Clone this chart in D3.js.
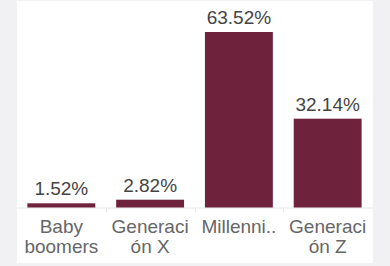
<!DOCTYPE html>
<html>
<head>
<meta charset="utf-8">
<script src="https://d3js.org/d3.v7.min.js"></script>
<style>
  body { margin: 0; background: #f1f1f3; }
  svg { display: block; }
</style>
</head>
<body>
<svg width="390" height="266"></svg>
<script>
  // data
  var categories = ["Baby boomers", "Generación X", "Millennials", "Generación Z"];
  var shares = [1.52, 2.82, 63.52, 32.14];
  var tickLines = [["Baby", "boomers"], ["Generaci", "ón X"], ["Millenni.."], ["Generaci", "ón Z"]];

  var data = categories.map(function (c, i) {
    return { name: c, value: shares[i], lines: tickLines[i] };
  });

  var svg = d3.select("svg");

  // white card
  svg.append("rect")
    .attr("x", 17).attr("y", 1)
    .attr("width", 356).attr("height", 262)
    .attr("fill", "#fff");

  var baseY = 207.5;

  var x = d3.scaleBand()
    .domain(categories)
    .range([17, 372])
    .paddingInner(0.235)
    .paddingOuter(0.117);

  var y = d3.scaleLinear()
    .domain([0, 63.52])
    .range([baseY, 32]);

  // axis line with separators between bands
  var axis = svg.append("g").attr("stroke", "#e6e6e6").attr("stroke-width", 1);
  axis.append("line")
    .attr("x1", 17).attr("x2", 373)
    .attr("y1", baseY + 0.5).attr("y2", baseY + 0.5);
  axis.selectAll(".sep")
    .data(categories.slice(1))
    .enter()
    .append("line")
    .attr("class", "sep")
    .attr("x1", function (d) { return Math.round(x(d) - x.step() * x.paddingInner() / 2) + 0.5; })
    .attr("x2", function (d) { return Math.round(x(d) - x.step() * x.paddingInner() / 2) + 0.5; })
    .attr("y1", baseY)
    .attr("y2", baseY + 5);

  svg.selectAll(".bar")
    .data(data)
    .enter()
    .append("rect")
    .attr("class", "bar")
    .attr("x", function (d) { return x(d.name); })
    .attr("width", x.bandwidth())
    .attr("y", function (d) { return y(d.value); })
    .attr("height", function (d) { return baseY - y(d.value); })
    .attr("fill", "#6e223b");

  svg.selectAll(".val")
    .data(data)
    .enter()
    .append("text")
    .attr("class", "val")
    .attr("x", function (d) { return x(d.name) + x.bandwidth() / 2; })
    .attr("y", function (d) { return y(d.value) - 8; })
    .attr("text-anchor", "middle")
    .style("font", "19px 'Liberation Sans', Arial, sans-serif")
    .style("fill", "#444")
    .text(function (d) { return d.value.toFixed(2) + "%"; });

  var lbl = svg.selectAll(".lbl")
    .data(data)
    .enter()
    .append("text")
    .attr("class", "lbl")
    .attr("text-anchor", "middle")
    .style("font", "19px 'Liberation Sans', Arial, sans-serif")
    .style("fill", "#666");

  lbl.selectAll("tspan")
    .data(function (d) { return d.lines.map(function (l) { return { t: l, cx: x(d.name) + x.bandwidth() / 2 }; }); })
    .enter()
    .append("tspan")
    .attr("x", function (d) { return d.cx; })
    .attr("y", function (d, i) { return 232.5 + i * 20; })
    .text(function (d) { return d.t; });
</script>
</body>
</html>
